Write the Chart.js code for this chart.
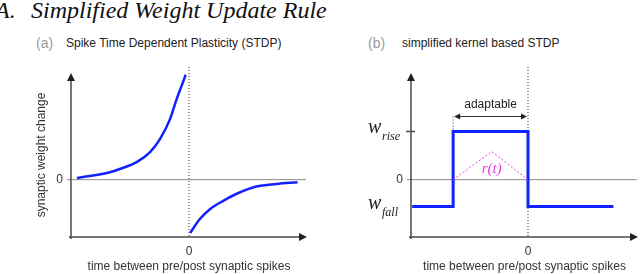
<!DOCTYPE html>
<html>
<head>
<meta charset="utf-8">
<script src="https://cdn.jsdelivr.net/npm/chart.js@4.4.1/dist/chart.umd.min.js"></script>
<style>
  body { margin: 0; background: #fff; }
  #page { position: relative; width: 640px; height: 274px; overflow: hidden; background: #fff; }
  .cv { position: absolute; top: 0; }
  .txt { position: absolute; white-space: nowrap; }
  .big { font: italic 24px "Liberation Serif", "Times New Roman", serif; color: #111; line-height: 24px; top: -2px; }
  .tag { font: 14px "Liberation Sans", Arial, sans-serif; color: #9a9a9a; line-height: 16px; top: 35px; }
  .sub { font: 12px "Liberation Sans", Arial, sans-serif; color: #222; line-height: 14px; top: 36px; }
</style>
</head>
<body>
<div id="page">
  <div class="txt big" style="left:-5px">A.</div>
  <div class="txt big" style="left:31px">Simplified Weight Update Rule</div>
  <div class="txt tag" style="left:36px">(a)</div>
  <div class="txt sub" style="left:66px">Spike Time Dependent Plasticity (STDP)</div>
  <div class="txt tag" style="left:368px">(b)</div>
  <div class="txt sub" style="left:402px">simplified kernel based STDP</div>
  <canvas id="stdp" class="cv" width="320" height="274" style="left:0"></canvas>
  <canvas id="kernel" class="cv" width="320" height="274" style="left:320px"></canvas>
</div>
<script>
'use strict'

// (a) classic STDP curve (time, weight change)
let stdpPreT  = [-0.95, -0.67, -0.58, -0.44, -0.33, -0.245, -0.16, -0.104, -0.062, -0.028];
let stdpPreW  = [0.03, 0.13, 0.19, 0.31, 0.48, 0.71, 1.06, 1.41, 1.64, 1.83];
let stdpPostT = [0.01, 0.09, 0.18, 0.29, 0.40, 0.57, 0.74, 0.92];
let stdpPostW = [-0.93, -0.69, -0.51, -0.37, -0.25, -0.12, -0.075, -0.046];

// (b) simplified kernel
let wRise = 0.84;
let wFall = -0.47;
let riseT = -0.64;
let kernelT = [-0.99, riseT, riseT, 0, 0, 0.73];
let kernelW = [wFall, wFall, wRise, wRise, wFall, wFall];
let rampT = [riseT, -0.31, 0];
let rampW = [0, 0.49, 0];

let yMin = -1, yMax = 1.86;
let xTitle = 'time between pre/post synaptic spikes';
let yTitle = 'synaptic weight change';

const sans = 'Liberation Sans, Arial, sans-serif';
const blue = '#1022ff';
const axisCol = '#4a4a4a';

function pts(xs, ys) {
  return xs.map((x, i) => ({ x: x, y: ys[i] }));
}

function arrowHead(ctx, x, y, dir) {
  ctx.beginPath();
  if (dir === 'up') {
    ctx.moveTo(x, y); ctx.lineTo(x - 4, y + 8); ctx.lineTo(x + 4, y + 8);
  } else if (dir === 'right') {
    ctx.moveTo(x, y); ctx.lineTo(x - 8, y - 4); ctx.lineTo(x - 8, y + 4);
  } else if (dir === 'left') {
    ctx.moveTo(x, y); ctx.lineTo(x + 6, y - 3); ctx.lineTo(x + 6, y + 3);
  } else {
    ctx.moveTo(x, y); ctx.lineTo(x - 6, y - 3); ctx.lineTo(x - 6, y + 3);
  }
  ctx.closePath();
  ctx.fill();
}

// axes with arrows, zero line and dotted t=0 line
let axesPlugin = {
  id: 'axes',
  beforeDatasetsDraw(chart) {
    let ctx = chart.ctx;
    let xs = chart.scales.x, ys = chart.scales.y;
    let a = chart.chartArea;
    let x0 = xs.getPixelForValue(0);
    let y0 = ys.getPixelForValue(0);
    let yb = ys.getPixelForValue(yMin);
    ctx.save();
    // zero line
    ctx.strokeStyle = '#8a8a8a';
    ctx.lineWidth = 1;
    ctx.beginPath();
    ctx.moveTo(a.left - 4, y0); ctx.lineTo(a.right - 1, y0);
    ctx.stroke();
    // dotted vertical
    ctx.strokeStyle = '#333';
    ctx.setLineDash([1, 2]);
    ctx.beginPath();
    ctx.moveTo(x0, a.top - 6); ctx.lineTo(x0, yb);
    ctx.stroke();
    ctx.setLineDash([]);
    // axes
    ctx.strokeStyle = axisCol;
    ctx.fillStyle = '#222';
    ctx.lineWidth = 1.5;
    ctx.beginPath();
    ctx.moveTo(a.left, yb + 2); ctx.lineTo(a.left, a.top + 4);
    ctx.moveTo(a.left - 2, yb); ctx.lineTo(a.right - 4, yb);
    ctx.stroke();
    arrowHead(ctx, a.left, a.top, 'up');
    arrowHead(ctx, a.right, yb, 'right');
    ctx.restore();
  }
};

// labels of the kernel plot
let kernelPlugin = {
  id: 'kernelLabels',
  afterDatasetsDraw(chart) {
    let ctx = chart.ctx;
    let xs = chart.scales.x, ys = chart.scales.y;
    let ax = chart.chartArea.left;
    ctx.save();
    // tick at w_rise
    ctx.strokeStyle = axisCol;
    ctx.lineWidth = 1.5;
    ctx.beginPath();
    ctx.moveTo(ax - 5, ys.getPixelForValue(wRise));
    ctx.lineTo(ax + 4, ys.getPixelForValue(wRise));
    ctx.stroke();
    // w labels
    ctx.fillStyle = '#222';
    ctx.textAlign = 'left';
    ctx.textBaseline = 'alphabetic';
    [[wRise, 'rise'], [wFall, 'fall']].forEach(function (l) {
      let yp = ys.getPixelForValue(l[0]);
      ctx.font = 'italic 20px "Liberation Serif", serif';
      ctx.fillText('w', ax - 43, yp + 2);
      ctx.font = 'italic 12px "Liberation Serif", serif';
      ctx.fillText(l[1], ax - 29, yp + 9);
    });
    // adaptable arrow
    let xl = xs.getPixelForValue(riseT), xr = xs.getPixelForValue(0);
    let yr = ys.getPixelForValue(wRise);
    let ya = yr - 15;
    ctx.strokeStyle = '#333';
    ctx.lineWidth = 1;
    ctx.setLineDash([1, 2]);
    ctx.beginPath();
    ctx.moveTo(xl, ya); ctx.lineTo(xl, yr);
    ctx.stroke();
    ctx.setLineDash([]);
    ctx.beginPath();
    ctx.moveTo(xl + 2, ya); ctx.lineTo(xr - 2, ya);
    ctx.stroke();
    ctx.fillStyle = '#222';
    arrowHead(ctx, xl + 1, ya, 'left');
    arrowHead(ctx, xr - 1, ya, 'rightSmall');
    ctx.font = '12px ' + sans;
    ctx.textAlign = 'center';
    ctx.textBaseline = 'middle';
    ctx.fillText('adaptable', (xl + xr) / 2, ya - 12);
    // r(t)
    ctx.fillStyle = '#e83ce0';
    ctx.font = 'italic 15px "Liberation Serif", serif';
    ctx.fillText('r(t)', xs.getPixelForValue(rampT[1]), ys.getPixelForValue(0) - 11);
    ctx.restore();
  }
};

function makeChart(id, datasets, opts) {
  let ctx = document.getElementById(id).getContext('2d');
  return new Chart(ctx, {
    type: 'line',
    data: { datasets: datasets },
    options: {
      responsive: false,
      animation: false,
      devicePixelRatio: 1,
      layout: { padding: { left: 0, top: 73, right: opts.padRight, bottom: 0 } },
      plugins: { legend: { display: false }, tooltip: { enabled: false } },
      elements: { point: { radius: 0 } },
      scales: {
        x: {
          type: 'linear',
          min: -1,
          max: opts.xMax,
          grid: { display: false, drawTicks: false },
          border: { display: false },
          afterBuildTicks: function (s) { s.ticks = [{ value: 0 }]; },
          afterFit: function (s) { s.height = 37; },
          ticks: { padding: 7, color: '#333', font: { family: sans, size: 12 } },
          title: { display: true, text: xTitle, color: '#333', padding: { top: 0, bottom: 0 },
                   font: { family: sans, size: 12 } }
        },
        y: {
          type: 'linear',
          min: yMin,
          max: yMax,
          grid: { display: false, drawTicks: false },
          border: { display: false },
          afterBuildTicks: function (s) { s.ticks = [{ value: 0 }]; },
          afterFit: function (s) { s.width = opts.yWidth; },
          ticks: { padding: 8, color: '#333', font: { family: sans, size: 12 } },
          title: { display: opts.yTitle, text: yTitle, color: '#333', padding: { top: 34, bottom: 0 },
                   font: { family: sans, size: 12 } }
        }
      }
    },
    plugins: opts.plugins
  });
}

makeChart('stdp', [
  { data: pts(stdpPreT, stdpPreW), borderColor: blue, borderWidth: 2.5, cubicInterpolationMode: 'monotone' },
  { data: pts(stdpPostT, stdpPostW), borderColor: blue, borderWidth: 2.5, cubicInterpolationMode: 'monotone' }
], { padRight: 13, xMax: 1, yWidth: 71, yTitle: true, plugins: [axesPlugin] });

makeChart('kernel', [
  { data: pts(rampT, rampW), borderColor: '#f03ce6', borderWidth: 1, borderDash: [2, 2], tension: 0 },
  { data: pts(kernelT, kernelW), borderColor: blue, borderWidth: 3, tension: 0 }
], { padRight: 2, xMax: 0.94, yWidth: 91, yTitle: false, plugins: [axesPlugin, kernelPlugin] });
</script>
</body>
</html>
